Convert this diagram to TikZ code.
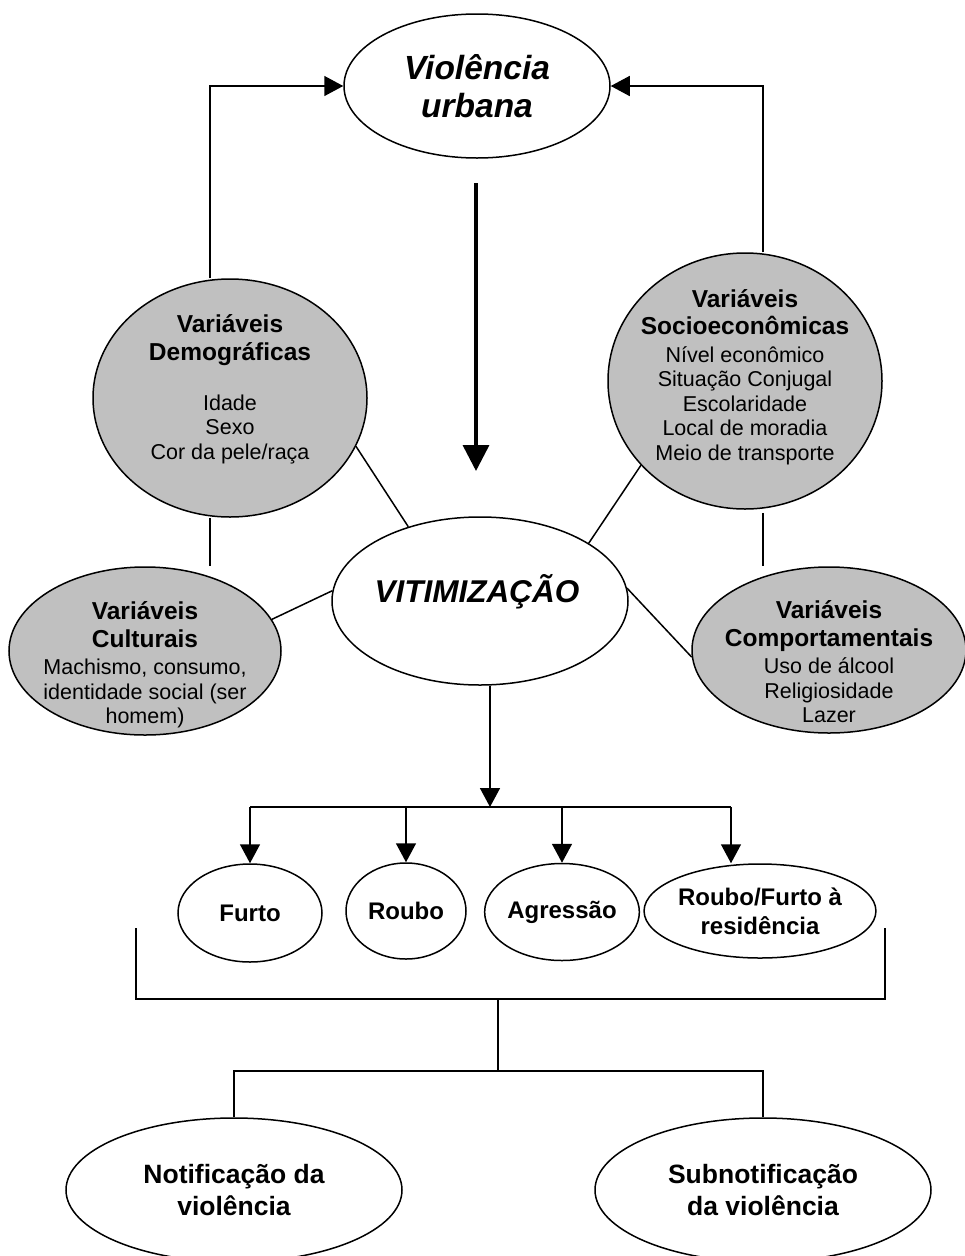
\documentclass[tikz,border=0pt]{standalone}
\usepackage{fontspec}
\setmainfont{Liberation Sans}
\usetikzlibrary{arrows.meta,calc,shapes.geometric}
\definecolor{varfill}{HTML}{C0C0C0}
\begin{document}
\begin{tikzpicture}[x=1pt,y=-1pt]
       \tikzstyle{ell}=[draw, ellipse, line width=1.5pt, inner sep=0pt]
       \tikzstyle{varell}=[ell, fill=varfill]
       \tikzstyle{crime}=[ell, font=\fontsize{24}{29}\selectfont\bfseries, align=center]
       \tikzstyle{notell}=[ell, font=\fontsize{26.5}{32}\selectfont\bfseries, align=center]
       \tikzstyle{vartxt}=[align=center, font=\fontsize{21.5}{24.5}\selectfont]
       \tikzstyle{arr}=[line width=1.5pt, -{Triangle[length=19pt,width=20pt]}]
       \tikzstyle{link}=[line width=1.5pt]
       \newcommand{\varhead}[1]{{\fontsize{24.5}{28}\selectfont\bfseries #1}}
       \useasboundingbox (0,0) rectangle (965,1256);
       % top
       \node[ell, minimum width=266pt, minimum height=144pt, align=center,
             font=\fontsize{33.5}{38}\selectfont\bfseries\itshape] (urb) at (477,86) {Violência\\urbana};
       \coordinate (ta) at (476,183);
       \coordinate (tb) at (476,471);
       \draw[line width=3.5pt, -{Triangle[length=26pt,width=26pt]}] (ta) -- (tb);
       % variables
       \node[varell, minimum width=274pt, minimum height=238pt] (demo) at (230,398) {};
       \node[vartxt] (demotxt) at (230,389) {\varhead{Variáveis}\\[4pt]\varhead{Demográficas}\\[25pt]Idade\\Sexo\\Cor da pele/raça};
       \node[varell, minimum width=274pt, minimum height=256pt] (socio) at (745,381) {};
       \node[vartxt] (sociotxt) at (745,377) {\varhead{Variáveis}\\[3pt]\varhead{Socioeconômicas}\\[3pt]Nível econômico\\Situação Conjugal\\Escolaridade\\Local de moradia\\Meio de transporte};
       \node[varell, minimum width=272pt, minimum height=168pt] (cult) at (145,651) {};
       \node[vartxt] (culttxt) at (145,665) {\varhead{Variáveis}\\[3pt]\varhead{Culturais}\\[3pt]Machismo, consumo,\\identidade social (ser\\homem)};
       \node[varell, minimum width=274pt, minimum height=166pt] (comp) at (829,650) {};
       \node[vartxt] (comptxt) at (829,662) {\varhead{Variáveis}\\[3pt]\varhead{Comportamentais}\\[3pt]Uso de álcool\\Religiosidade\\Lazer};
       \node[ell, minimum width=296pt, minimum height=168pt] (vit) at (480,601) {};
       \node[font=\fontsize{31.5}{36}\selectfont\bfseries\itshape] (vittxt) at (477,592) {VITIMIZAÇÃO};
       \coordinate (lx) at (210,0);
       \coordinate (rx) at (763,0);
       \draw[arr] (demo.north -| lx) |- (urb.west);
       \draw[arr] (socio.north -| rx) |- (urb.east);
       \draw[link] (demo.south -| lx) -- (cult.north -| lx);
       \draw[link] ([yshift=-3pt]socio.south -| rx) -- (comp.north -| rx);
       \draw[link] (demo.-21) -- (vit.134.6);
       \draw[link] (cult.14) -- (vit.176);
       \draw[link] (socio.219) -- (vit.28);
       \draw[link] (vit.5) -- (comp.183);
       % crimes
       \node[crime, minimum width=144pt, minimum height=98pt] (furto) at (250,913) {Furto};
       \node[crime, minimum width=120pt, minimum height=96pt] (roubo) at (406,911) {Roubo};
       \node[crime, minimum width=145pt, minimum height=97pt] (agress) at (562,912) {Agressão};
       \node[crime, minimum width=204pt, minimum height=94pt] (resid) at (760,911) {Roubo/Furto à\\residência};
       \coordinate (fork) at (490,807);
       \coordinate (rf) at (731,0);
       \draw[arr] (vit.south -| fork) -- (fork);
       \draw[link] (furto.north |- fork) -- (rf |- fork);
       \foreach \n in {furto,roubo,agress}
         \draw[arr] (\n.north |- fork) -- (\n.north);
       \draw[arr] (rf |- fork) -- (rf |- resid.north);
       % notification
       \coordinate (bkl) at (136,928);
       \coordinate (bkr) at (885,928);
       \coordinate (bkm) at (498,999);
       \coordinate (split) at (498,1071);
       \draw[link] (bkl) |- (bkm) -| (bkr);
       \draw[link] (bkm) -- (split);
       \node[notell, minimum width=336pt, minimum height=144pt] (notif) at (234,1190) {Notificação da\\violência};
       \node[notell, minimum width=336pt, minimum height=144pt] (subn) at (763,1190) {Subnotificação\\da violência};
       \draw[link] (notif.north) |- (split) -| (subn.north);
      \end{tikzpicture}
\end{document}
